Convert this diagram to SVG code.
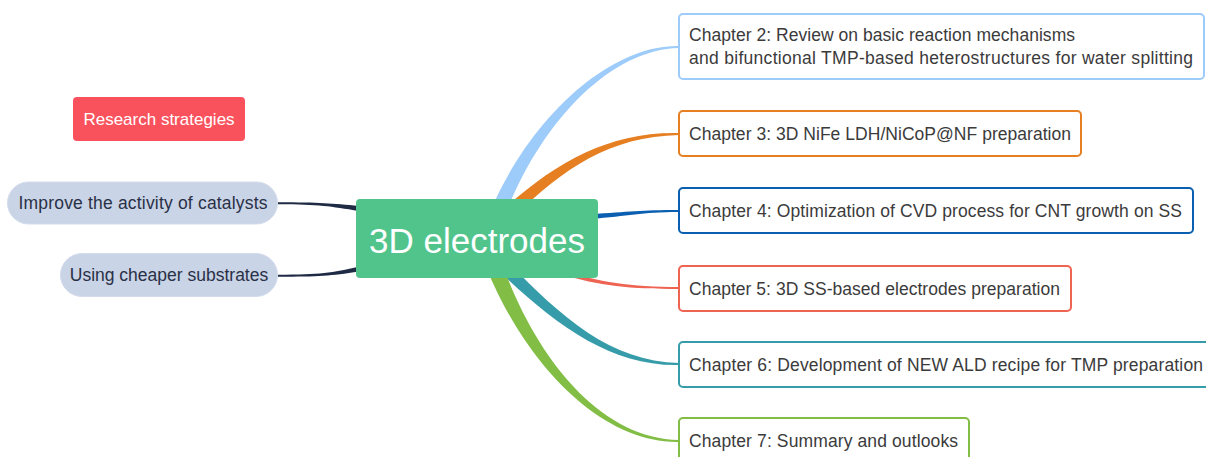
<svg xmlns="http://www.w3.org/2000/svg" width="1206" height="457" viewBox="0 0 1206 457">
<style>
text{font-family:"Liberation Sans",Arial,sans-serif}
.ch{fill:#fff;stroke-width:2}
.cht{font-size:17.5px;fill:#3b3b3b}
.lt{font-size:17.5px;fill:#2a3047;text-anchor:middle}
.lnode{fill:#c9d4e6;stroke:#d3dcec;stroke-width:1}
</style>
<rect width="1206" height="457" fill="#fff"/>
<g id="connectors">
<path d="M490,212 C530,117.5 610,44.5 679,46 L679,48 C610,49.5 540,122.5 504,218 Z" fill="#9dcbfa"/>
<path d="M505.5,207.5 C557,161.5 610,131.5 679,133 L679,135 C610,136.5 563,168.5 514.5,216.5 Z" fill="#e67e22"/>
<path d="M590,214 C630,212 640,210 679,210 L679,212 C640,212 630,216 590,219 Z" fill="#0b5fb0"/>
<path d="M560,270 C600,282 630,287 679,287 L679,289 C630,289 600,286 560,274 Z" fill="#ee6352"/>
<path d="M506.5,260.5 C560.5,316.5 610,361.5 679,363 L679,365 C610,366.5 553.5,323.5 497.5,269.5 Z" fill="#379ca9"/>
<path d="M501.5,262 C535.5,357.8 600,438.5 679,440 L679,442 C600,443.5 524.5,362.2 486.5,268 Z" fill="#82be45"/>
<path d="M278,202.3 C320,202.3 332,203.5 359,206 L359,211 C330,206.5 320,204.3 278,204.3 Z" fill="#1f2b45"/>
<path d="M278,274.7 C320,274.7 332,273 359,266.5 L359,271.5 C330,276 320,276.7 278,276.7 Z" fill="#1f2b45"/>
</g>
<g id="central">
<rect x="356" y="199" width="242" height="79" rx="4" fill="#51c48c"/>
<text x="477" y="253" font-size="35" fill="#fff" text-anchor="middle">3D electrodes</text>
</g>
<g id="research">
<rect x="73" y="97" width="172" height="44" rx="4" fill="#fa525d"/>
<text x="159" y="125" font-size="17" fill="#fff" text-anchor="middle">Research strategies</text>
</g>
<g id="improve">
<rect class="lnode" x="7.5" y="182" width="270" height="42" rx="21"/>
<text class="lt" x="143" y="209" textLength="249">Improve the activity of catalysts</text>
</g>
<g id="using">
<rect class="lnode" x="60.5" y="253.5" width="217" height="43" rx="21.5"/>
<text class="lt" x="169" y="281">Using cheaper substrates</text>
</g>
<g id="ch2">
<rect class="ch" x="679" y="14" width="525" height="65" rx="4" stroke="#9dcbfa"/>
<text class="cht" x="689" y="41" textLength="386">Chapter 2: Review on basic reaction mechanisms</text>
<text class="cht" x="689" y="63.5" textLength="504">and bifunctional TMP-based heterostructures for water splitting</text>
</g>
<g id="ch3">
<rect class="ch" x="679" y="111" width="402" height="45" rx="4" stroke="#e67e22"/>
<text class="cht" x="689" y="139.5" textLength="382">Chapter 3: 3D NiFe LDH/NiCoP@NF preparation</text>
</g>
<g id="ch4">
<rect class="ch" x="679" y="188" width="514" height="45" rx="4" stroke="#0b5fb0"/>
<text class="cht" x="689" y="217" textLength="493">Chapter 4: Optimization of CVD process for CNT growth on SS</text>
</g>
<g id="ch5">
<rect class="ch" x="679" y="266" width="392" height="45" rx="4" stroke="#ee6352"/>
<text class="cht" x="689" y="294.5" textLength="371">Chapter 5: 3D SS-based electrodes preparation</text>
</g>
<g id="ch6">
<rect class="ch" x="679" y="342" width="540" height="45" rx="4" stroke="#379ca9"/>
<text class="cht" x="689" y="371" textLength="514">Chapter 6: Development of NEW ALD recipe for TMP preparation</text>
</g>
<g id="ch7">
<rect class="ch" x="679" y="418" width="290" height="45" rx="4" stroke="#82be45"/>
<text class="cht" x="689" y="447" textLength="269">Chapter 7: Summary and outlooks</text>
</g>
</svg>
